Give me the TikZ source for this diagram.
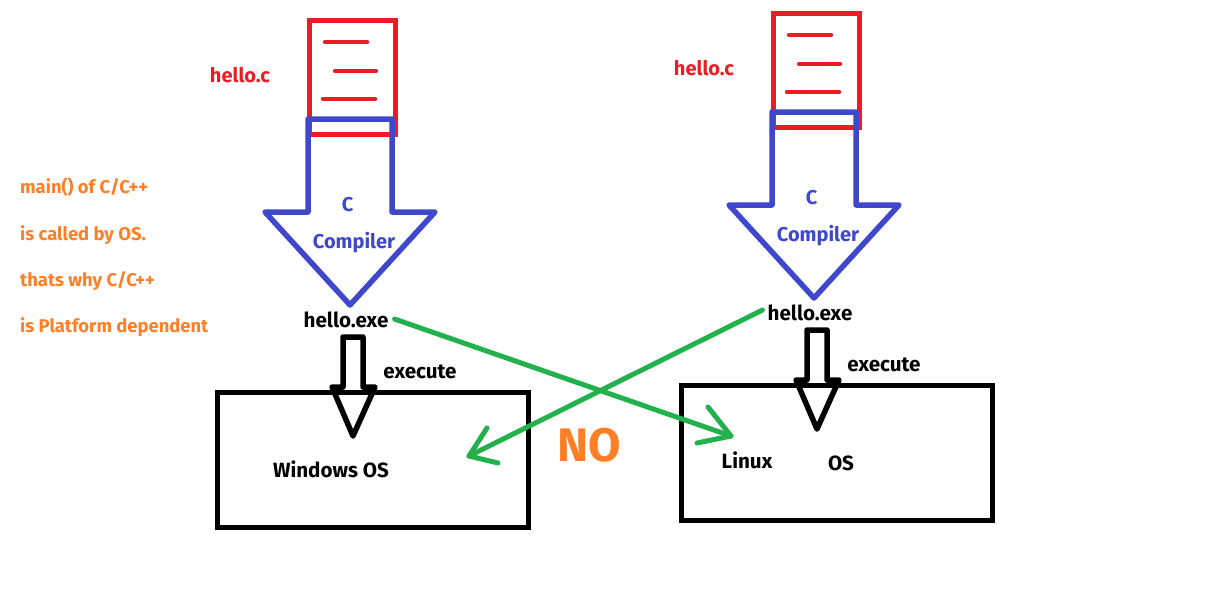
\documentclass[tikz,border=0pt]{standalone}
\usepackage{fontspec}
\setmainfont{Fira Sans}
\definecolor{rd}{HTML}{ED1C24}
\definecolor{bl}{HTML}{3F48CC}
\definecolor{gr}{HTML}{22B14C}
\definecolor{og}{HTML}{FF7F27}
\tikzset{
  x=1pt,y=-1pt,
  txt/.style={font=\fontsize{20.6}{22}\selectfont\bfseries,inner sep=0pt,anchor=center},
  srctxt/.style={txt,text=rd,font=\fontsize{20}{22}\selectfont\bfseries},
  cmptxt/.style={txt,text=bl,font=\fontsize{20}{22}\selectfont\bfseries},
  note/.style={txt,text=og,anchor=west,font=\fontsize{18.4}{20}\selectfont\bfseries},
  doc/.style={draw=rd,line width=5pt,miter limit=10},
  docline/.style={draw=rd,line width=4.5pt,line cap=round},
  compiler/.style={draw=bl,line width=5.5pt,line join=round},
  runarrow/.style={draw=black,line width=5.5pt,line join=round},
  osbox/.style={draw=black,line width=5.5pt},
  noarrow/.style={draw=gr,line width=5pt,line cap=round,line join=round},
}
\begin{document}
\begin{tikzpicture}
\useasboundingbox[fill=white] (0,0) rectangle (1221,603);
% left document
\draw[doc] (309.5,20.5) rectangle (395,134.5);
\draw[docline] (325,42) -- (367,42);
\draw[docline] (335,71) -- (376,71);
\draw[docline] (323,99) -- (375,99);
\node[srctxt] (srcA) at (240,75) {hello.c};
\draw[compiler] (308,119) -- (392,119) -- (392,212) -- (435,212) -- (350,305) -- (265,212) -- (308,212) -- cycle;
\node[cmptxt] (cA) at (347.5,205) {C};
\node[cmptxt] (compA) at (354,243) {Compiler};
\node[txt] (exeA) at (346,320) {hello.exe};
\node[osbox,minimum width=311pt,minimum height=135pt,inner sep=0pt] (winbox) at (373,459.75) {};
\draw[runarrow] (343,337) -- (363,337) -- (363,387) -- (375,387) -- (353,436) -- (332,387) -- (343,387) -- cycle;
\node[txt] (runA) at (420,372) {execute};
\node[txt] (winos) at (331,469) {Windows OS};
% right document
\draw[doc] (773.5,13.5) rectangle (859,127.5);
\draw[docline] (789,35) -- (831,35);
\draw[docline] (799,64) -- (840,64);
\draw[docline] (787,92) -- (839,92);
\node[srctxt] (srcB) at (704,68) {hello.c};
\draw[compiler] (772,112) -- (856,112) -- (856,205) -- (899,205) -- (814,298) -- (729,205) -- (772,205) -- cycle;
\node[cmptxt] (cB) at (811.5,198) {C};
\node[cmptxt] (compB) at (818,236) {Compiler};
\node[txt] (exeB) at (810,313) {hello.exe};
\node[osbox,minimum width=311pt,minimum height=135pt,inner sep=0pt] (linbox) at (837,452.75) {};
\draw[runarrow] (807,330) -- (827,330) -- (827,380) -- (839,380) -- (817,429) -- (796,380) -- (807,380) -- cycle;
\node[txt] (runB) at (884,365) {execute};
\node[txt] (linux) at (747,460) {Linux};
\node[txt] (os) at (841,463) {OS};
% side note
\node[note] (n1) at (20,187.5) {main() of C/C++};
\node[note] (n2) at (20,235) {is called by OS.};
\node[note] (n3) at (20,281) {thats why C/C++};
\node[note] (n4) at (20,327) {is Platform dependent};
% green arrows
\coordinate (tipR) at (731,436);
\coordinate (tipL) at (469,456);
\coordinate (startR) at ([xshift=6pt,yshift=1pt]exeA.east);
\coordinate (startL) at ([xshift=-5pt,yshift=3pt]exeB.west);
\draw[noarrow] (startR) -- (tipR);
\draw[noarrow] (708,407) -- (tipR) -- (697,443);
\draw[noarrow] (startL) -- (tipL);
\draw[noarrow] (487,428) -- (tipL) -- (498,463);
\node[txt,text=og,font=\fontsize{47}{50}\selectfont\bfseries] (no) at (589,445) {NO};
\end{tikzpicture}
\end{document}
